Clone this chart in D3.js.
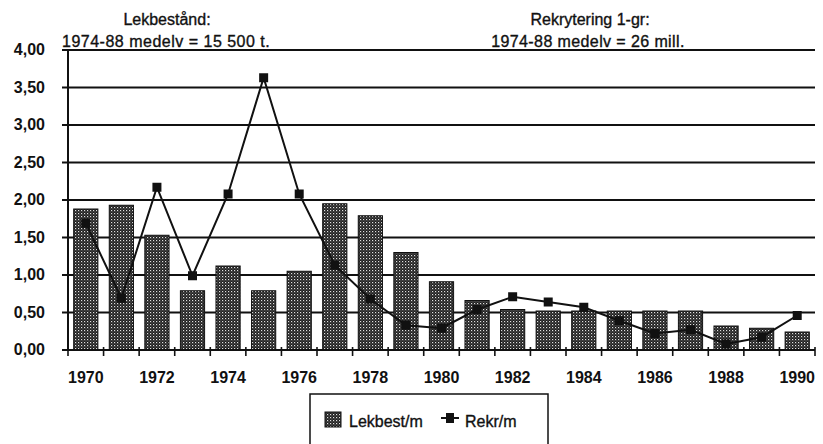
<!DOCTYPE html>
<meta charset="utf-8">
<style>

body { margin: 0; background: #fff; }
text {
  font-family: "Liberation Sans", Arial, sans-serif;
  fill: #111;
}
.tick-label { font-size: 16px; font-weight: bold; }
.title { font-size: 16px; stroke: #111; stroke-width: 0.35px; }

</style>
<svg width="823" height="444"></svg>
<script src="https://cdnjs.cloudflare.com/ajax/libs/d3/7.8.5/d3.min.js"></script>
<script>

var years = d3.range(1970, 1991);
var lekbest = [1.88, 1.93, 1.53, 0.79, 1.12, 0.79, 1.05, 1.95, 1.79, 1.30,
               0.91, 0.66, 0.54, 0.52, 0.52, 0.52, 0.52, 0.52, 0.32, 0.29, 0.24];
var rekr = [1.69, 0.69, 2.17, 0.99, 2.08, 3.63, 2.08, 1.13, 0.68, 0.33,
            0.29, 0.54, 0.71, 0.64, 0.57, 0.39, 0.22, 0.27, 0.08, 0.17, 0.46];
var yTicks = [0, 0.5, 1, 1.5, 2, 2.5, 3, 3.5, 4];
var xLabels = [1970, 1972, 1974, 1976, 1978, 1980, 1982, 1984, 1986, 1988, 1990];

var svg = d3.select("svg");

var x = d3.scaleBand()
    .domain(years)
    .range([68, 815])
    .paddingInner(0.32)
    .paddingOuter(0.16);

var y = d3.scaleLinear()
    .domain([0, 4])
    .range([350, 50]);

var fmt = function(d) { return d3.format(".2f")(d).replace(".", ","); };

// stipple pattern for bars
var pat = svg.append("defs").append("pattern")
    .attr("id", "stipple")
    .attr("width", 3)
    .attr("height", 3)
    .attr("patternUnits", "userSpaceOnUse");
pat.append("rect").attr("width", 3).attr("height", 3).attr("fill", "#1e1e1e");
pat.append("rect").attr("x", 0).attr("y", 0).attr("width", 1.2).attr("height", 1.2).attr("fill", "#e0e0e0");
pat.append("rect").attr("x", 1.5).attr("y", 1.5).attr("width", 1).attr("height", 1).attr("fill", "#8a8a8a");

// gridlines
svg.append("g")
  .selectAll("line")
  .data(yTicks)
  .enter().append("line")
    .attr("x1", 62)
    .attr("x2", 815)
    .attr("y1", function(d) { return y(d); })
    .attr("y2", function(d) { return y(d); })
    .attr("stroke", "#111")
    .attr("stroke-width", 1.8);

// y labels
svg.append("g")
  .selectAll("text")
  .data(yTicks)
  .enter().append("text")
    .attr("class", "tick-label")
    .attr("x", 45)
    .attr("y", function(d) { return y(d) + 5; })
    .attr("text-anchor", "end")
    .text(fmt);

// bars
svg.append("g")
  .selectAll("rect")
  .data(years)
  .enter().append("rect")
    .attr("x", function(d) { return x(d); })
    .attr("y", function(d, i) { return y(lekbest[i]); })
    .attr("width", x.bandwidth())
    .attr("height", function(d, i) { return y(0) - y(lekbest[i]); })
    .attr("fill", "url(#stipple)")
    .attr("stroke", "#111")
    .attr("stroke-width", 1);

// axes lines
svg.append("line")
    .attr("x1", 68).attr("x2", 68)
    .attr("y1", y(4)).attr("y2", y(0))
    .attr("stroke", "#111").attr("stroke-width", 2);
svg.append("line")
    .attr("x1", 62).attr("x2", 815)
    .attr("y1", y(0)).attr("y2", y(0))
    .attr("stroke", "#111").attr("stroke-width", 2);

var step = x.step();
svg.append("g")
  .selectAll("line")
  .data(d3.range(years.length + 1))
  .enter().append("line")
    .attr("x1", function(i) { return 68 + i * step; })
    .attr("x2", function(i) { return 68 + i * step; })
    .attr("y1", y(0) - 3)
    .attr("y2", y(0) + 6)
    .attr("stroke", "#111")
    .attr("stroke-width", 1.6);

// x labels
svg.append("g")
  .selectAll("text")
  .data(xLabels)
  .enter().append("text")
    .attr("class", "tick-label")
    .attr("x", function(d) { return x(d) + x.bandwidth() / 2; })
    .attr("y", 383)
    .attr("text-anchor", "middle")
    .text(function(d) { return d; });

// line series
var cx = function(d, i) { return x(years[i]) + x.bandwidth() / 2; };
svg.append("path")
    .datum(rekr)
    .attr("fill", "none")
    .attr("stroke", "#111")
    .attr("stroke-width", 2)
    .attr("d", d3.line().x(cx).y(function(d) { return y(d); }));

svg.append("g")
  .selectAll("rect")
  .data(rekr)
  .enter().append("rect")
    .attr("x", function(d, i) { return cx(d, i) - 4.5; })
    .attr("y", function(d) { return y(d) - 4.5; })
    .attr("width", 9)
    .attr("height", 9)
    .attr("fill", "#111");

// titles
svg.append("text").attr("class", "title")
    .attr("x", 167).attr("y", 25).attr("text-anchor", "middle")
    .text("Lekbestånd:");
svg.append("text").attr("class", "title")
    .attr("x", 62).attr("y", 47)
    .attr("letter-spacing", 0.5)
    .text("1974-88 medelv = 15 500 t.");
svg.append("text").attr("class", "title")
    .attr("x", 590).attr("y", 25).attr("text-anchor", "middle")
    .text("Rekrytering 1-gr:");
svg.append("text").attr("class", "title")
    .attr("x", 588).attr("y", 47).attr("text-anchor", "middle")
    .attr("letter-spacing", 0.4)
    .text("1974-88 medelv = 26 mill.");

// legend
var lg = svg.append("g");
lg.append("rect")
    .attr("x", 310).attr("y", 394)
    .attr("width", 238).attr("height", 60)
    .attr("fill", "#fff")
    .attr("stroke", "#111")
    .attr("stroke-width", 1.5);
lg.append("rect")
    .attr("x", 325).attr("y", 412)
    .attr("width", 16).attr("height", 15)
    .attr("fill", "url(#stipple)")
    .attr("stroke", "#111");
lg.append("text").attr("class", "title")
    .attr("x", 349).attr("y", 427)
    .text("Lekbest/m");
lg.append("line")
    .attr("x1", 441).attr("x2", 459)
    .attr("y1", 418).attr("y2", 418)
    .attr("stroke", "#111").attr("stroke-width", 2);
lg.append("rect")
    .attr("x", 446).attr("y", 413)
    .attr("width", 8).attr("height", 10)
    .attr("fill", "#111");
lg.append("text").attr("class", "title")
    .attr("x", 465).attr("y", 427)
    .text("Rekr/m");

</script>
